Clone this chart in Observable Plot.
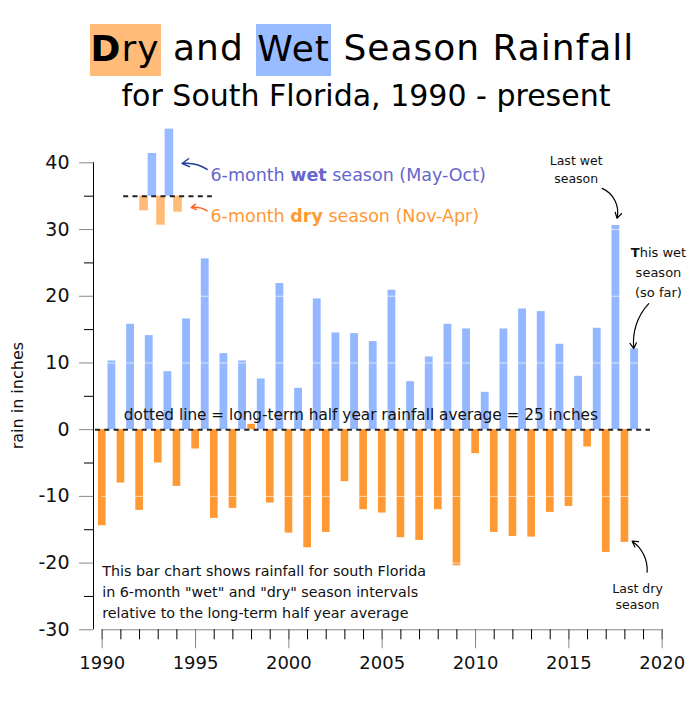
<!DOCTYPE html>
<html><head><meta charset="utf-8">
<script src="https://cdn.jsdelivr.net/npm/d3@7"></script>
<script src="https://cdn.jsdelivr.net/npm/@observablehq/plot@0.6"></script>
<style>
body{margin:0;background:#fff;font-family:"DejaVu Sans",sans-serif;}
#wrap{position:relative;width:700px;height:706px;overflow:hidden;background:#fff}
#hdr{position:relative;width:700px;height:110px}
.t1{position:absolute;left:0;top:21px;width:700px;box-sizing:border-box;padding-left:24px;text-align:center;font-size:36px;line-height:53px;letter-spacing:1px;white-space:nowrap;color:#000}
.t1 .hl{padding:3.5px 1px 7.5px 1px}
.t2{position:absolute;left:0;top:77.6px;width:700px;box-sizing:border-box;padding-left:32px;text-align:center;font-size:30px;line-height:36px;white-space:nowrap;color:#000}
#chart svg{display:block}
</style></head>
<body><div id="wrap">
<div id="hdr">
  <div class="t1"><span class="hl" style="background:#ffbb77"><b>D</b>ry</span> and <span class="hl" style="background:#99bbff">Wet</span> Season Rainfall</div>
  <div class="t2">for South Florida, 1990 - present</div>
</div>
<div id="chart"></div>
</div>
<script>
// ---- data (inches relative to the 25-inch half-year average) ----
const years = [1990,1991,1992,1993,1994,1995,1996,1997,1998,1999,2000,2001,2002,2003,2004,2005,2006,2007,2008,2009,2010,2011,2012,2013,2014,2015,2016,2017,2018];
const wet = [10.3,15.8,14.1,8.7,16.6,25.6,11.4,10.3,7.6,21.9,6.2,19.6,14.5,14.4,13.2,20.9,7.2,10.9,15.8,15.1,5.6,15.1,18.1,17.7,12.8,8.0,15.2,30.6,12.1];
const dry = [-14.4,-8.0,-12.1,-5.0,-8.5,-2.9,-13.3,-11.8,0.8,-11.0,-15.5,-17.7,-15.4,-7.8,-12.0,-12.5,-16.2,-16.6,-12.0,-20.4,-3.6,-15.4,-16.0,-16.1,-12.4,-11.5,-2.6,-18.4,-16.9];
// legend sample bars
const legendBase = 35;
const legendDryX = [1992.24,1993.15,1994.06];
const legendDryV = [32.8,30.65,32.6];
const legendWetX = [1992.69,1993.60];
const legendWetV = [41.4,45.05];
// ticks
const yMajor = [-30,-20,-10,0,10,20,30,40];
const yMinor = [-25,-15,-5,5,15,25,35];
const xMajor = [1990,1995,2000,2005,2010,2015,2020];
const xMinor = [1990,1991,1992,1993,1994,1995,1996,1997,1998,1999,2000,2001,2002,2003,2004,2005,2006,2007,2008,2009,2010,2011,2012,2013,2014,2015,2016,2017,2018,2019,2020];
const gridInBars = [-20,-10,10,20,30];

const data = years.map((year,i)=>({year, wet: wet[i], dry: dry[i]}));

const dash = "5,4.33";
const txt = (s, o) => Plot.text([s], {text: d => d, lineAnchor: "bottom", fill: "#111", ...o});

const chart = Plot.plot({
  width: 700, height: 596,
  marginLeft: 101.7, marginRight: 38.3, marginTop: 12.3, marginBottom: 76.7,
  x: {domain: [1990, 2020], axis: null},
  y: {domain: [-30, 46], axis: null},
  style: {fontFamily: "DejaVu Sans", background: "white", overflow: "visible"},
  marks: [
    // legend sample bars
    Plot.rect(legendDryX, {x1: d => d - 0.23, x2: d => d + 0.23, y1: legendBase, y2: (d,i) => legendDryV[i], fill: "#ffbb77"}),
    Plot.rect(legendWetX, {x1: d => d - 0.23, x2: d => d + 0.23, y1: legendBase, y2: (d,i) => legendWetV[i], fill: "#99bbff"}),
    Plot.ruleY([legendBase], {x1: 1991.15, x2: 1995.9, stroke: "#222", strokeWidth: 2, strokeDasharray: dash}),
    // seasons
    Plot.rect(data, {x1: d => d.year - 0.2, x2: d => d.year + 0.21, y1: 0, y2: "dry", fill: "#ff9933"}),
    Plot.rect(data, {x1: d => d.year + 0.31, x2: d => d.year + 0.73, y1: 0, y2: "wet", fill: "#94b8ff"}),
    Plot.ruleY(gridInBars, {x1: 1990, x2: 2020, stroke: "white", strokeOpacity: 0.65}),
    Plot.ruleY([0], {x1: 1989.64, x2: 2019.37, stroke: "#222", strokeWidth: 2, strokeDasharray: dash}),
    // axes
    Plot.ruleX([1990], {y1: -30, y2: 40, dx: -8.7, stroke: "#000"}),
    Plot.ruleY([-30], {x1: 1990, x2: 2020, stroke: "#888"}),
    Plot.axisY(yMinor, {anchor: "left", tickSize: 9, text: null, stroke: "#000", dx: -8.7}),
    Plot.axisY(yMajor, {anchor: "left", tickSize: 14, tickPadding: 10, stroke: "#888", fill: "#111", fontSize: 19, dx: -8.7, tickFormat: d => String(d), label: null}),
    Plot.axisX(xMinor, {anchor: "bottom", tickSize: 10, text: null, stroke: "#000"}),
    Plot.axisX(xMajor, {anchor: "bottom", tickSize: 19, tickPadding: 7, stroke: "#888", fill: "#111", fontSize: 18, tickFormat: d => String(d), label: null}),
    Plot.text(["rain in inches"], {x: 1985.5, y: 5.1, text: d => d, rotate: -90, fontSize: 16, fill: "#111"}),
    // texts
    txt("6-month *wet* season (May-Oct)", {x: 1995.80, y: 37.24, textAnchor: "start", fontSize: 17.5, fill: "#6666cc"}),
    txt("6-month *dry* season (Nov-Apr)", {x: 1995.80, y: 31.1, textAnchor: "start", fontSize: 17.5, fill: "#ff9933"}),
    txt("dotted line = long-term half year rainfall average = 25 inches", {x: 1991.16, y: 1.39, textAnchor: "start", fontSize: 15.3}),
    txt("This bar chart shows rainfall for south Florida", {x: 1990.0, y: -22.0, textAnchor: "start", fontSize: 14.3}),
    txt("in 6-month \"wet\" and \"dry\" season intervals", {x: 1990.0, y: -25.15, textAnchor: "start", fontSize: 14.3}),
    txt("relative to the long-term half year average", {x: 1990.0, y: -28.3, textAnchor: "start", fontSize: 14.3}),
    txt("Last wet", {x: 2015.39, y: 39.64, textAnchor: "middle", fontSize: 12.5}),
    txt("season", {x: 2015.39, y: 36.99, textAnchor: "middle", fontSize: 12.5}),
    txt("*T*his wet", {x: 2019.8, y: 25.85, textAnchor: "middle", fontSize: 13}),
    txt("season", {x: 2019.8, y: 22.89, textAnchor: "middle", fontSize: 13}),
    txt("(so far)", {x: 2019.8, y: 19.92, textAnchor: "middle", fontSize: 13}),
    txt("Last dry", {x: 2018.68, y: -24.5, textAnchor: "middle", fontSize: 12.5}),
    txt("season", {x: 2018.68, y: -26.85, textAnchor: "middle", fontSize: 12.5}),
    // arrows
    Plot.arrow([0], {x1: 1995.62, y1: 39.0, x2: 1994.28, y2: 39.9, bend: -20, stroke: "#1f3d99", strokeWidth: 1.5, headLength: 8}),
    Plot.arrow([0], {x1: 1995.62, y1: 32.8, x2: 1994.77, y2: 33.3, bend: -20, stroke: "#ff6622", strokeWidth: 1.5, headLength: 8}),
    Plot.arrow([0], {x1: 2016.78, y1: 36.17, x2: 2017.58, y2: 31.67, bend: 40, stroke: "#000", strokeWidth: 1.2, headLength: 8}),
    Plot.arrow([0], {x1: 2019.28, y1: 18.9, x2: 2018.48, y2: 12.15, bend: -25, stroke: "#000", strokeWidth: 1.2, headLength: 8}),
    Plot.arrow([0], {x1: 2019.19, y1: -21.36, x2: 2018.39, y2: -16.71, bend: -30, stroke: "#000", strokeWidth: 1.2, headLength: 8})
  ]
});

// bold segments marked with *...*
const ns = "http://www.w3.org/2000/svg";
chart.querySelectorAll("text").forEach(t => {
  if (t.children.length === 0 && t.textContent.includes("*")) {
    const parts = t.textContent.split("*");
    t.textContent = "";
    parts.forEach((p, i) => {
      const ts = document.createElementNS(ns, "tspan");
      if (i % 2) ts.setAttribute("font-weight", "bold");
      ts.textContent = p;
      t.appendChild(ts);
    });
  }
});
document.getElementById("chart").appendChild(chart);
</script>
</body></html>
